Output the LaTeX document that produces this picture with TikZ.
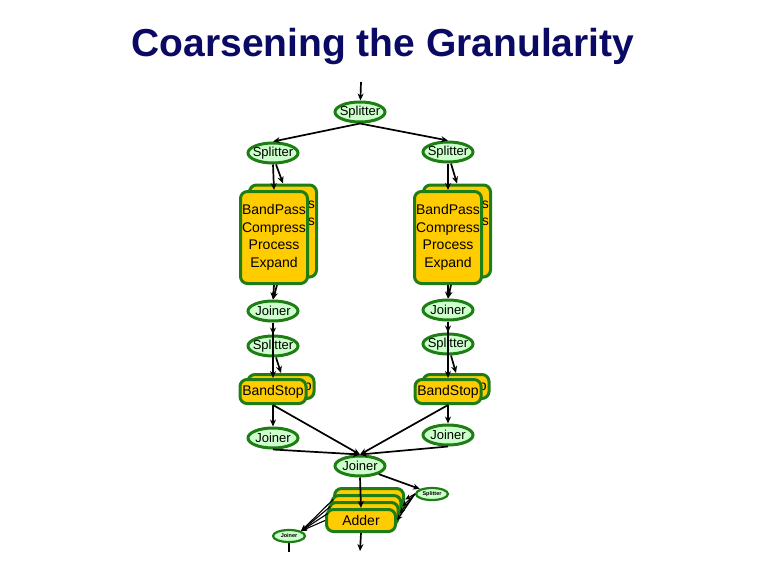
\documentclass[tikz,border=0pt]{standalone}
\usepackage{fontspec}
\setmainfont{Liberation Sans}
\usetikzlibrary{shapes.geometric,arrows.meta}
\definecolor{gborder}{RGB}{30,125,20}
\definecolor{gfill}{RGB}{204,255,204}
\definecolor{yfill}{RGB}{255,204,0}
\definecolor{navy}{RGB}{10,10,100}
\newcommand\zw[1]{\makebox[0pt]{#1}}
\newcommand\bpback{\phantom{BandPas}s\\\phantom{Compres}s\\\phantom{Process}\\\phantom{Expand}}
\begin{document}
\begin{tikzpicture}[x=1pt,y=-1pt,
 ell/.style={ellipse, draw=gborder, fill=gfill, line width=3pt, minimum width=50pt, minimum height=20pt, inner sep=0pt, font=\fontsize{13}{14}\selectfont},
 tinyell/.style={ellipse, draw=gborder, fill=gfill, line width=2.2pt, minimum width=32pt, minimum height=12pt, inner sep=0pt, font=\fontsize{5.5}{6}\selectfont\bfseries},
 box/.style={draw=gborder, fill=yfill, line width=3pt, rounded corners=7pt, inner sep=0pt, align=center, font=\fontsize{14}{17.5}\selectfont},
 bp/.style={box, minimum width=67pt, minimum height=92pt},
 bs/.style={box, minimum width=66pt, minimum height=24pt},
 ad/.style={box, minimum width=69pt, minimum height=22pt},
 arr/.style={line width=1.7pt, -{Stealth[length=7pt,width=6pt]}},
 thinarr/.style={line width=1.1pt, -{Stealth[length=6pt,width=5pt]}},
 ln/.style={line width=1.7pt}]
\useasboundingbox (0,0) rectangle (768,576);

\node[font=\fontsize{39}{44}\selectfont\bfseries, text=navy, anchor=base] (title) at (383,56) {Coarsening the Granularity};

\coordinate (T0) at (361,82);
\node[ell] (S0) at (360,112) {\zw{Splitter}};
\node[ell] (SL) at (273,153) {\zw{Splitter}};
\node[ell] (SR) at (448,152) {\zw{Splitter}};

\node[bp] (BPLb) at (283,231) {\bpback};
\node[bp] (BPL) at (274,237.5) {BandPass\\Compress\\Process\\Expand};
\node[bp] (BPRb) at (457,231) {\bpback};
\node[bp] (BPR) at (448,237.5) {BandPass\\Compress\\Process\\Expand};

\node[ell] (JL) at (273,311) {\zw{Joiner}};
\node[ell] (JR) at (448,310) {\zw{Joiner}};
\node[ell] (SL2) at (273,346) {\zw{Splitter}};
\node[ell] (SR2) at (448,344) {\zw{Splitter}};

\node[bs] (BSLb) at (281,386.5) {\phantom{BandSto}p};
\node[bs] (BSL) at (273,391.5) {BandStop};
\node[bs] (BSRb) at (456,386.5) {\phantom{BandSto}p};
\node[bs] (BSR) at (448,391.5) {BandStop};

\node[ell] (JL2) at (273,438) {\zw{Joiner}};
\node[ell] (JR2) at (448,435) {\zw{Joiner}};
\node[ell] (JC) at (360,466) {\zw{Joiner}};

\node[ad] (A3) at (369.1,499.5) {};
\node[ad] (A2) at (366.4,506.5) {};
\node[ad] (A1) at (363.7,513.5) {};
\node[ad] (A0) at (361,520.5) {Adder};

\node[tinyell] (TS) at (432,494) {\zw{Splitter}};
\node[tinyell] (TJ) at (289,536) {\zw{Joiner}};
\coordinate (AO) at (360,551);
\coordinate (TO) at (289,552);

% connectors
\draw[arr] (T0) -- (S0);
\draw[arr] (S0.south) -- (SL.north);
\draw[arr] (S0.south) -- (SR.north);

\draw[arr] (SL.south) -- (BPL.north);
\draw[arr] ([xshift=3pt]SL.south) -- (BPLb.north);
\draw[arr] (SR.south) -- (BPR.north);
\draw[arr] ([xshift=3pt]SR.south) -- (BPRb.north);

\draw[arr] (BPL.south) -- (JL.north);
\draw[arr] ([xshift=3pt]BPL.south) -- (JL.north);
\draw[arr] (BPR.south) -- (JR.north);
\draw[arr] ([xshift=3pt]BPR.south) -- (JR.north);

\draw[arr] (JL.south) -- (SL2.north);
\draw[arr] (JR.south) -- (SR2.north);
\draw[arr] (JL.south) -- (BSL.north);
\draw[arr] (JR.south) -- (BSR.north);
\draw[arr] ([xshift=3pt]SL2.south) -- (BSLb.north);
\draw[arr] ([xshift=3pt]SR2.south) -- (BSRb.north);

\draw[arr] (BSL.south) -- (JL2.north);
\draw[arr] (BSR.south) -- (JR2.north);
\draw[arr] (BSL.south) -- (JC.north);
\draw[arr] (BSR.south) -- (JC.north);
\draw[arr] (JL2.south) -- (JC.north);
\draw[arr] (JR2.south) -- (JC.north);

\draw[arr] (JC.south) -- (A0.north);
\draw[arr] (JC.south east) -- (TS.north west);
\foreach \k in {0,1,2,3} {
  \draw[thinarr] (TS.west) -- (A\k.east);
  \draw[thinarr] (A\k.west) -- (TJ.north east);
}
\draw[arr] (A0.south) -- (AO);
\draw[ln] (TJ.south) -- (TO);
\end{tikzpicture}
\end{document}
